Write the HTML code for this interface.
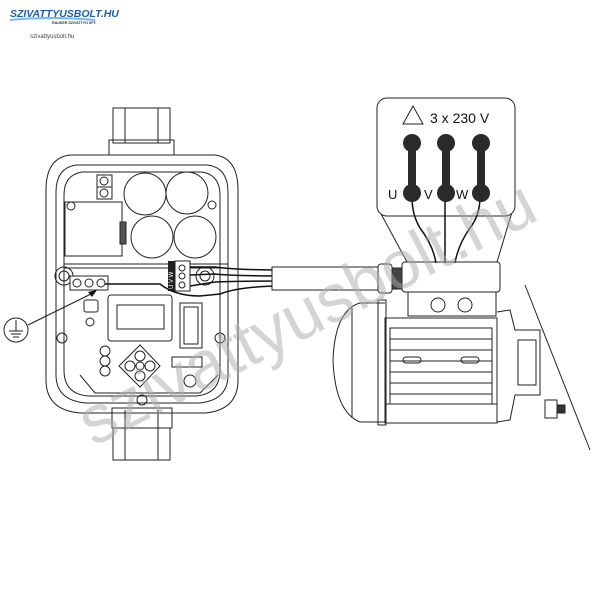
<!DOCTYPE html>
<html><head><meta charset="utf-8"><style>
html,body{margin:0;padding:0;background:#fff;}
svg{display:block;}
</style></head><body>
<svg width="600" height="600" viewBox="0 0 600 600" xmlns="http://www.w3.org/2000/svg" font-family="Liberation Sans, sans-serif">
<!-- logo -->
<text x="10" y="17" font-size="10.5" font-weight="bold" fill="#1f5fa8" font-style="italic">SZIVATTYUSBOLT.HU</text>
<path d="M10 20 Q50 16 95 20" stroke="#7ab8e8" stroke-width="2" fill="none"/>
<text x="52" y="24" font-size="3.6" font-weight="bold" fill="#333">RAUKER SZIVATTYÚ KFT.</text>
<text x="30" y="38" font-size="6" fill="#444">szivattyusbolt.hu</text>

<g fill="none" stroke="#222" stroke-width="1">
<rect x="113" y="108" width="57" height="35"/>
<line x1="125" y1="108" x2="125" y2="143"/><line x1="158" y1="108" x2="158" y2="143"/>
<rect x="109" y="140" width="65" height="20"/>
<path d="M70 155 L215 155 Q238 158 238 190 L238 380 Q238 410 205 413 L80 413 Q46 410 46 380 L46 190 Q46 158 70 155 Z" fill="#fff"/>
<path d="M76 165 L208 165 Q228 168 228 192 L228 375 Q228 400 200 403 L85 403 Q56 400 56 375 L56 192 Q56 168 76 165 Z"/>
<path d="M82 172 L202 172 Q220 175 220 195 L220 370 Q220 394 196 396 L88 396 Q64 394 64 370 L64 195 Q64 175 82 172 Z"/>
<rect x="112" y="408" width="60" height="20"/>
<rect x="113" y="428" width="57" height="32"/>
<line x1="125" y1="410" x2="125" y2="460"/><line x1="158" y1="410" x2="158" y2="460"/>
<circle cx="145" cy="194" r="21"/><circle cx="187" cy="193" r="21"/>
<circle cx="152" cy="237" r="21"/><circle cx="195" cy="237" r="21"/>
<rect x="97" y="175" width="15" height="12"/><rect x="97" y="187" width="15" height="12"/>
<circle cx="104" cy="181" r="4"/><circle cx="104" cy="193" r="4"/>
<rect x="65" y="202" width="57" height="54"/>
<rect x="120" y="222" width="6" height="22" fill="#555"/>
<circle cx="71" cy="206" r="4"/><circle cx="212" cy="205" r="4"/>
<circle cx="62" cy="338" r="5"/><circle cx="220" cy="338" r="5"/>
<circle cx="142" cy="400" r="5"/>
<path d="M64 264 L228 264"/><path d="M64 268 L228 268"/>
<circle cx="64" cy="276" r="9"/><circle cx="64" cy="276" r="5"/>
<rect x="70" y="276" width="38" height="14" fill="#fff"/>
<circle cx="77" cy="283" r="4"/><circle cx="89" cy="283" r="4"/><circle cx="101" cy="283" r="4"/>
<rect x="175" y="261" width="15" height="30" fill="#fff"/>
<circle cx="182" cy="268" r="3"/><circle cx="182" cy="276" r="3"/><circle cx="182" cy="285" r="3"/>
<circle cx="205" cy="276" r="9"/><circle cx="205" cy="276" r="5"/>
<rect x="108" y="295" width="64" height="46" rx="3"/>
<rect x="117" y="305" width="47" height="24"/>
<rect x="84" y="300" width="14" height="12" rx="2"/>
<circle cx="90" cy="322" r="4"/>
<path d="M180 303 h22 v45 h-22 z"/><path d="M184 307 h14 v37 h-14 z"/>
<circle cx="105" cy="351" r="5"/><circle cx="105" cy="361" r="5"/><circle cx="105" cy="371" r="5"/>
<path d="M140 345 L160 366 L140 387 L119 366 Z"/>
<circle cx="140" cy="356" r="5"/><circle cx="130" cy="366" r="5"/><circle cx="150" cy="366" r="5"/><circle cx="140" cy="376" r="5"/><circle cx="140" cy="366" r="4"/>
<rect x="172" y="357" width="30" height="10"/>
<circle cx="190" cy="381" r="6"/>
<path d="M80 375 L95 393 L200 393 L218 375"/>
<circle cx="16" cy="330" r="12"/>
<line x1="16" y1="320" x2="16" y2="331"/>
<line x1="9" y1="331" x2="23" y2="331"/><line x1="11" y1="334" x2="21" y2="334"/><line x1="13" y1="337" x2="19" y2="337"/>
<line x1="28" y1="325" x2="93" y2="293" stroke-width="1.2"/>
</g>
<polygon points="97,290 88,292 92,297" fill="#111"/>
<rect x="168" y="261" width="7" height="30" fill="#222"/>
<text x="173" y="289" font-size="6" fill="#fff" transform="rotate(-90 173 289)">U V W</text>

<g fill="none" stroke="#111" stroke-width="1.5">
<path d="M105 284 L160 284 Q175 296 200 296 L220 294 Q240 286 285 286"/>
<path d="M190 267 L215 267 Q235 270 285 270"/>
<path d="M190 275 L215 274 Q235 276 285 276"/>
<path d="M190 286 L215 282 Q235 281 285 281"/>
</g>
<g fill="none" stroke="#222" stroke-width="1">
<rect x="272" y="267" width="106" height="23" fill="#fff"/>
<rect x="378" y="264" width="14" height="29" rx="3" fill="#fff"/>
<rect x="392" y="268" width="10" height="21" fill="#444"/>
<rect x="402" y="262" width="98" height="30" rx="3" fill="#fff"/>
<rect x="408" y="292" width="88" height="24"/>
<circle cx="438" cy="305" r="7"/><circle cx="465" cy="305" r="7"/>
<path d="M385 303 L360 303 Q335 310 333 360 Q335 412 360 422 L385 422"/>
<path d="M352 308 L352 418"/>
<rect x="378" y="300" width="8" height="125"/>
<rect x="385" y="318" width="112" height="105"/>
<rect x="390" y="328" width="102" height="76"/>
<line x1="390" y1="339" x2="492" y2="339"/><line x1="390" y1="350" x2="492" y2="350"/>
<line x1="390" y1="361" x2="492" y2="361"/><line x1="390" y1="372" x2="492" y2="372"/>
<line x1="390" y1="383" x2="492" y2="383"/><line x1="390" y1="394" x2="492" y2="394"/>
<rect x="403" y="357" width="18" height="6" rx="3"/><rect x="461" y="357" width="18" height="6" rx="3"/>
<rect x="385" y="404" width="112" height="19"/>
<path d="M497 312 L510 310 L515 330 L540 330 L540 395 L515 395 L510 420 L497 422"/>
<rect x="518" y="340" width="18" height="45"/>
<rect x="545" y="400" width="12" height="18"/>
<rect x="557" y="405" width="8" height="8" fill="#333"/>
<line x1="525" y1="285" x2="590" y2="450"/>
<path d="M380 212 L407 262"/><path d="M512 212 L497 262"/>
<rect x="377" y="98" width="138" height="118" rx="10" fill="#fff"/>
<path d="M413 106 L403 124 L423 124 Z"/>
</g>
<text x="430" y="123" font-size="14" fill="#111">3 x 230 V</text>
<g fill="none" stroke="#111" stroke-width="1.5">
<path d="M412 197 Q412 215 420 228 Q433 245 436 263"/>
<path d="M445 197 L445 263"/>
<path d="M480 197 Q480 215 470 228 Q458 245 455 263"/>
</g>
<g fill="#2a2a2a">
<circle cx="412" cy="143" r="9"/><circle cx="412" cy="193" r="9"/><rect x="408" y="143" width="8" height="50"/>
<circle cx="446" cy="143" r="9"/><circle cx="446" cy="193" r="9"/><rect x="442" y="143" width="8" height="50"/>
<circle cx="481" cy="143" r="9"/><circle cx="481" cy="193" r="9"/><rect x="477" y="143" width="8" height="50"/>
</g>
<text x="388" y="199" font-size="13" fill="#111">U</text>
<text x="424" y="199" font-size="13" fill="#111">V</text>
<text x="456" y="199" font-size="13" fill="#111">W</text>

<text x="308" y="335" font-size="68" fill="#aaa" fill-opacity="0.5" text-anchor="middle" transform="rotate(-27 308 315)">szivattyusbolt.hu</text>
</svg>
</body></html>
